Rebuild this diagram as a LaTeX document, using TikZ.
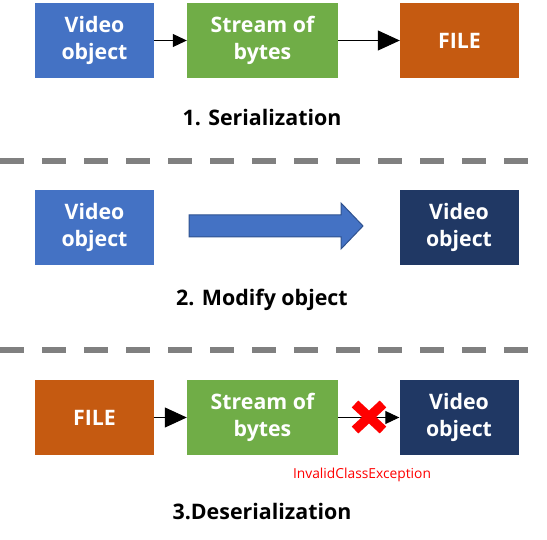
\documentclass[tikz,border=0pt]{standalone}
\usepackage{fontspec}
\setmainfont{Open Sans}
\usetikzlibrary{arrows.meta}
\definecolor{vblue}{HTML}{4472C4}
\definecolor{vgreen}{HTML}{70AD47}
\definecolor{vorange}{HTML}{C55A11}
\definecolor{vnavy}{HTML}{203864}
\definecolor{vborder}{HTML}{2F528F}
\definecolor{vgray}{HTML}{808080}
\begin{document}
\begin{tikzpicture}[x=1pt,y=-1pt,
  box/.style={minimum width=119pt,minimum height=75pt,inner sep=0pt,text=white,
    font=\bfseries\fontsize{21.3}{27}\selectfont,align=center},
  wbox/.style={box,minimum width=151pt},
  title/.style={font=\bfseries\fontsize{21.4}{25}\selectfont,text=black},
  sarr/.style={line width=1pt,-{Triangle[length=14pt,width=13pt]}},
  barr/.style={line width=1pt,-{Triangle[length=22pt,width=20pt]}},
  sep/.style={line width=6pt,vgray,dash pattern=on 24pt off 18pt}]
\useasboundingbox (0,0) rectangle (547,540);
% row 1
\node[box,fill=vblue] (v1) at (94.5,40.5) {Video\\object};
\node[wbox,fill=vgreen] (s1) at (262.5,40.5) {Stream of\\bytes};
\node[box,fill=vorange] (f1) at (459.5,40.5) {FILE};
\draw[sarr] (v1) -- (s1);
\draw[barr] (s1) -- (f1);
\node[title] (t1) at (262,118) {1. Serialization};
\draw[sep] (0,161) -- (531,161);
% row 2
\node[box,fill=vblue] (v2) at (94.5,227.5) {Video\\object};
\node[box,fill=vnavy] (n2) at (459,227.5) {Video\\object};
\draw[vborder,fill=vblue,line width=1pt,line join=miter]
  (189,215) -- (341,215) -- (341,203) -- (363,226) -- (341,249) -- (341,237) -- (189,237) -- cycle;
\node[title] (t2) at (262,300) {2. Modify object};
\draw[sep] (0,350) -- (531,350);
% row 3
\node[box,fill=vorange] (f3) at (94.5,417.5) {FILE};
\node[wbox,fill=vgreen] (s3) at (262.5,417.5) {Stream of\\bytes};
\node[box,fill=vnavy] (n3) at (459,417.5) {Video\\object};
\draw[barr] (f3) -- (s3);
\draw[sarr] (s3) -- (n3);
\coordinate (x3) at (369,417);
\draw[red,line width=9.5pt] ([shift={(-14,-13)}]x3) -- ([shift={(14,13)}]x3);
\draw[red,line width=9.5pt] ([shift={(-14,13)}]x3) -- ([shift={(14,-13)}]x3);
\node[text=red,font=\fontsize{13.8}{16}\selectfont] (ex) at (362,475) {InvalidClassException};
\node[title] (t3) at (262,512) {3.Deserialization};
\end{tikzpicture}
\end{document}
